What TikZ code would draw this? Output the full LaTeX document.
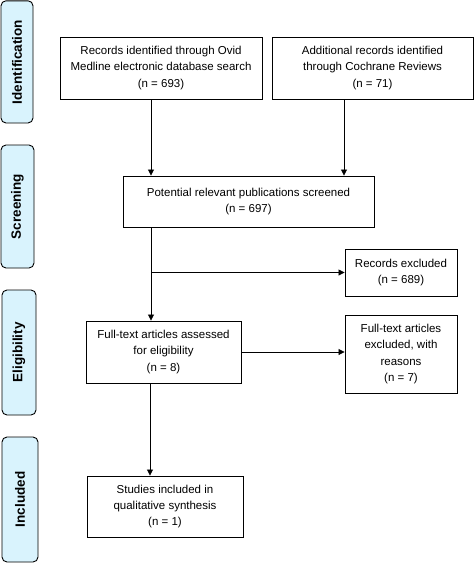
\documentclass[tikz,border=0pt]{standalone}
\usepackage{fontspec}
\setmainfont{Liberation Sans}
\usetikzlibrary{positioning,arrows.meta}
\tikzset{>={Triangle[length=6pt,width=6pt]}}
\colorlet{phaseFill}{cyan!15!white}
\tikzset{
  flowbox/.style={draw,line width=0.9pt,align=center,inner sep=2pt,
    font=\fontsize{11.5}{16.3}\selectfont},
  phasebar/.style={draw,line width=0.9pt,fill=phaseFill,rounded corners=5pt},
  phaselabel/.style={rotate=90,font=\fontsize{13.5}{16}\selectfont\bfseries},
  flow/.style={->,line width=0.8pt}
}
\begin{document}
\begin{tikzpicture}[x=1pt,y=-1pt]
  \useasboundingbox (0,0) rectangle (474,563);
  % phase bars on the left
  \draw[phasebar] (1,0.8) rectangle (33,123);
  \node[phaselabel] (idlab) at (17,62) {Identification};
  \draw[phasebar] (1,145) rectangle (34,268);
  \node[phaselabel] (scrlab) at (17.5,206.5) {Screening};
  \draw[phasebar] (2,290) rectangle (36,415);
  \node[phaselabel] (elilab) at (19,352.5) {Eligibility};
  \draw[phasebar] (2,437) rectangle (38,562);
  \node[phaselabel] (inclab) at (20,499.5) {Included};
  % boxes
  \node[flowbox,minimum width=202pt,minimum height=62pt] (ovid) at (161,68)
    {Records identified through Ovid\\Medline electronic database search\\(n = 693)};
  \node[flowbox,minimum width=201pt,minimum height=62pt] (coch) at (372.5,68)
    {Additional records identified\\through Cochrane Reviews\\(n = 71)};
  \node[flowbox,minimum width=251pt,minimum height=51pt] (pot) at (248.5,201.5)
    {Potential relevant publications screened\\(n = 697)};
  \node[flowbox,minimum width=112pt,minimum height=47pt] (recex) at (401,272.5)
    {Records excluded\\(n = 689)};
  \node[flowbox,minimum width=155pt,minimum height=62pt] (full) at (163.5,352)
    {Full-text articles assessed\\for eligibility\\(n = 8)};
  \node[flowbox,minimum width=112pt,minimum height=78pt] (ftex) at (401,354)
    {Full-text articles\\excluded, with\\reasons\\(n = 7)};
  \node[flowbox,minimum width=156pt,minimum height=61pt] (incl) at (165,506.5)
    {Studies included in\\qualitative synthesis\\(n = 1)};
  % connectors
  \coordinate (trunk) at (151,0);
  \coordinate (side) at (344,0);
  \coordinate (split) at (151,272.5);
  \draw[flow] (ovid.south -| trunk) -- (pot.north -| trunk);
  \draw[flow] (coch.south -| side) -- (pot.north -| side);
  \draw[flow] (pot.south -| trunk) -- (full.north -| trunk);
  \draw[flow] (split) -- (recex.west);
  \draw[flow] (full.east) -- (ftex.west |- full.east);
  \draw[flow] (full.south -| 150,0) -- (incl.north -| 150,0);
\end{tikzpicture}
\end{document}
